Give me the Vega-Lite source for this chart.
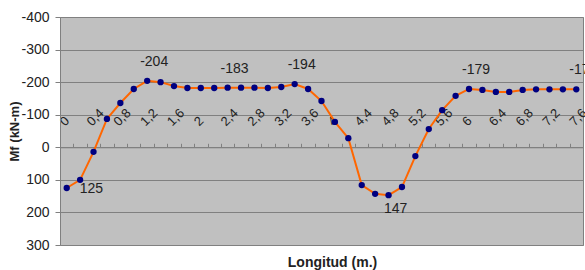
{
  "$schema": "https://vega.github.io/schema/vega-lite/v6.json",
  "width": 523,
  "height": 228,
  "autosize": "none",
  "padding": {"left": 60, "top": 17, "right": 2, "bottom": 25},
  "background": "#ffffff",
  "config": {
    "view": {"fill": "#c0c0c0", "stroke": "#808080", "strokeWidth": 1},
    "font": "Liberation Sans"
  },
  "data": {
    "values": [
      {"x": 0, "Mf": 125}, {"x": 0.2, "Mf": 100}, {"x": 0.4, "Mf": 14},
      {"x": 0.6, "Mf": -87}, {"x": 0.8, "Mf": -136}, {"x": 1.0, "Mf": -179},
      {"x": 1.2, "Mf": -204}, {"x": 1.4, "Mf": -200}, {"x": 1.6, "Mf": -188},
      {"x": 1.8, "Mf": -182}, {"x": 2.0, "Mf": -182}, {"x": 2.2, "Mf": -182},
      {"x": 2.4, "Mf": -183}, {"x": 2.6, "Mf": -183}, {"x": 2.8, "Mf": -183},
      {"x": 3.0, "Mf": -182}, {"x": 3.2, "Mf": -185}, {"x": 3.4, "Mf": -194},
      {"x": 3.6, "Mf": -179}, {"x": 3.8, "Mf": -142}, {"x": 4.0, "Mf": -78},
      {"x": 4.2, "Mf": -28}, {"x": 4.4, "Mf": 116}, {"x": 4.6, "Mf": 143},
      {"x": 4.8, "Mf": 147}, {"x": 5.0, "Mf": 122}, {"x": 5.2, "Mf": 27},
      {"x": 5.4, "Mf": -56}, {"x": 5.6, "Mf": -114}, {"x": 5.8, "Mf": -158},
      {"x": 6.0, "Mf": -179}, {"x": 6.2, "Mf": -176}, {"x": 6.4, "Mf": -170},
      {"x": 6.6, "Mf": -170}, {"x": 6.8, "Mf": -176}, {"x": 7.0, "Mf": -178},
      {"x": 7.2, "Mf": -178}, {"x": 7.4, "Mf": -178}, {"x": 7.6, "Mf": -178}
    ]
  },
  "encoding": {
    "x": {
      "field": "x",
      "type": "ordinal",
      "sort": null,
      "scale": {"type": "band", "paddingInner": 0, "paddingOuter": 0},
      "axis": {
        "orient": "top",
        "offset": -130.29,
        "title": "Longitud (m.)",
        "titleFont": "Liberation Sans",
        "titleFontSize": 14,
        "titleFontWeight": "bold",
        "titleColor": "#222222",
        "titleX": 272,
        "titleY": 115,
        "titleAlign": "center",
        "titleBaseline": "middle",
        "titleAngle": 0,
        "labelExpr": "round(datum.value*10) % 4 == 0 ? replace('' + datum.value, '.', ',') : ''",
        "labelAngle": -45,
        "labelAlign": "left",
        "labelBaseline": "bottom",
        "labelPadding": 15,
        "labelFontSize": 13,
        "labelColor": "#222222",
        "labelOverlap": false,
        "labelBound": false,
        "labelFlush": false,
        "tickBand": "extent",
        "tickSize": 4,
        "tickColor": "#808080",
        "domainColor": "#808080",
        "grid": false
      }
    },
    "y": {
      "field": "Mf",
      "type": "quantitative",
      "scale": {"domain": [-400, 300], "reverse": true, "nice": false, "zero": false},
      "axis": {
        "values": [-400, -300, -200, -100, 0, 100, 200, 300],
        "labelExpr": "'' + datum.value",
        "title": "Mf (kN-m)",
        "titleFont": "Liberation Sans",
        "titleFontSize": 13,
        "titleFontWeight": "bold",
        "titleColor": "#222222",
        "titleX": -39,
        "titleY": 114,
        "titleAngle": -90,
        "titleAlign": "center",
        "titleBaseline": "bottom",
        "labelFontSize": 14,
        "labelColor": "#222222",
        "labelPadding": 6,
        "tickSize": 5,
        "tickColor": "#808080",
        "domainColor": "#808080",
        "grid": true,
        "gridColor": "#808080",
        "gridWidth": 1
      }
    }
  },
  "layer": [
    {"mark": {"type": "line", "color": "#ff6600", "strokeWidth": 2}},
    {"mark": {"type": "circle", "color": "#000080", "opacity": 1, "size": 40}},
    {
      "transform": [{"filter": {"field": "x", "oneOf": [1.2, 2.4, 3.4, 6.0, 7.6]}}],
      "mark": {"type": "text", "align": "center", "baseline": "middle", "dx": 7, "dy": -19, "fontSize": 14, "color": "#222222"},
      "encoding": {"text": {"field": "Mf", "type": "nominal"}}
    },
    {
      "transform": [{"filter": {"field": "x", "equal": 0}}],
      "mark": {"type": "text", "align": "left", "baseline": "middle", "dx": 13, "dy": 1, "fontSize": 14, "color": "#222222"},
      "encoding": {"text": {"field": "Mf", "type": "nominal"}}
    },
    {
      "transform": [{"filter": {"field": "x", "equal": 4.8}}],
      "mark": {"type": "text", "align": "center", "baseline": "middle", "dx": 7, "dy": 14, "fontSize": 14, "color": "#222222"},
      "encoding": {"text": {"field": "Mf", "type": "nominal"}}
    }
  ]
}
